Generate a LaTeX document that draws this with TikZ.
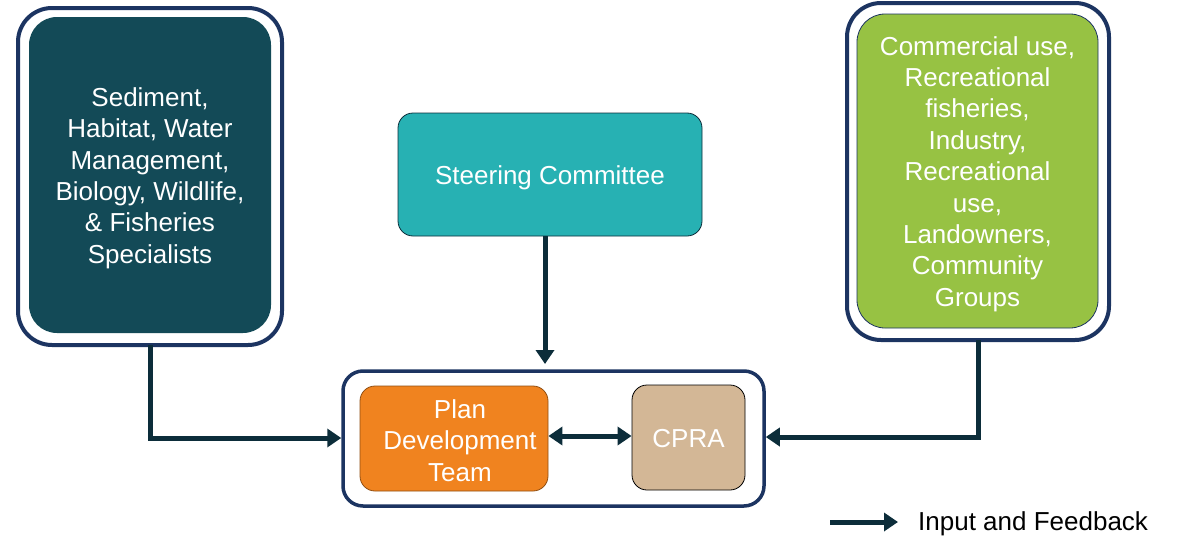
\documentclass[tikz,border=0pt]{standalone}
\usepackage{fontspec}
\setmainfont{Liberation Sans}
\usetikzlibrary{arrows.meta}
\definecolor{navy}{HTML}{1C3461}
\definecolor{specteal}{HTML}{134A57}
\definecolor{steerteal}{HTML}{27B1B3}
\definecolor{stakegreen}{HTML}{97C243}
\definecolor{pdtorange}{HTML}{F0831F}
\definecolor{cpratan}{HTML}{D3B796}
\definecolor{flowdark}{HTML}{0C2D3A}
\tikzset{
  outerbox/.style={draw=navy, line width=4pt, rounded corners=34pt, fill=white},
  innerbox/.style={rounded corners=28pt, inner sep=0pt},
  smallbox/.style={rounded corners=15pt, inner sep=0pt, line width=0.8pt},
  boxtext/.style={text=white, align=center, inner sep=0pt,
    font=\fontsize{26}{31.4}\selectfont},
  flow/.style={draw=flowdark, line width=5pt,
    -{Triangle[length=14pt,width=18pt]}},
  flowboth/.style={draw=flowdark, line width=5pt,
    {Triangle[length=14pt,width=18pt]}-{Triangle[length=14pt,width=18pt]}}
}
\begin{document}
\begin{tikzpicture}[x=1pt,y=-1pt]
\useasboundingbox (0,0) rectangle (1181,538);

% specialists group
\draw[outerbox] (18,8) rectangle (282,345);
\node[innerbox, fill=specteal, minimum width=242pt, minimum height=316pt] (spec) at (150,175) {};
\node[boxtext] (spectext) at ([yshift=-3pt]spec.center)
  {Sediment,\\Habitat, Water\\Management,\\Biology, Wildlife,\\\& Fisheries\\Specialists};
\coordinate (specout) at (150,345);

% stakeholder group
\draw[outerbox] (847,3) rectangle (1109,340);
\node[innerbox, draw=navy, line width=0.8pt, fill=stakegreen, minimum width=241pt, minimum height=314pt] (stake) at (977.5,171) {};
\node[boxtext] (staketext) at ([yshift=-3pt]stake.center)
  {Commercial use,\\Recreational\\fisheries,\\Industry,\\Recreational\\use,\\Landowners,\\Community\\Groups};
\coordinate (stakeout) at (978,340);

% steering committee
\node[smallbox, draw=flowdark, fill=steerteal, minimum width=304pt, minimum height=123pt] (steer) at (550,174.5) {};
\node[boxtext] (steertext) at ([yshift=-3pt]steer.center) {Steering Committee};
\coordinate (steerout) at ([xshift=-5pt]steer.south);

% plan development container
\node[draw=navy, line width=3.5pt, rounded corners=20pt, fill=white,
  minimum width=421pt, minimum height=135pt, inner sep=0pt] (core) at (553.5,438.5) {};
\node[smallbox, draw=pdtorange!60!black, fill=pdtorange, minimum width=188pt, minimum height=105pt] (pdt) at (454,438.5) {};
\node[boxtext] (pdttext) at ([xshift=6pt,yshift=-2pt]pdt.center) {Plan\\Development\\Team};
\node[smallbox, draw=black, fill=cpratan, minimum width=113pt, minimum height=105pt] (cpra) at (688.5,437.5) {};
\node[boxtext] (cpratext) at ([yshift=-1pt]cpra.center) {CPRA};

% connectors
\draw[flow] (specout) |- (core.west |- 0,438);
\draw[flow] (steerout) -- (steerout |- 0,364);
\draw[flow] (stakeout) |- (core.east |- 0,437);
\draw[flowboth] (pdt.east |- 0,436) -- (cpra.west |- 0,436);

% legend
\coordinate (legA) at (830,522);
\coordinate (legB) at (898,522);
\draw[flow] (legA) -- (legB);
\node[anchor=west, font=\fontsize{26}{30}\selectfont, inner sep=0pt] (legtext) at (918,524) {Input and Feedback};
\end{tikzpicture}
\end{document}
